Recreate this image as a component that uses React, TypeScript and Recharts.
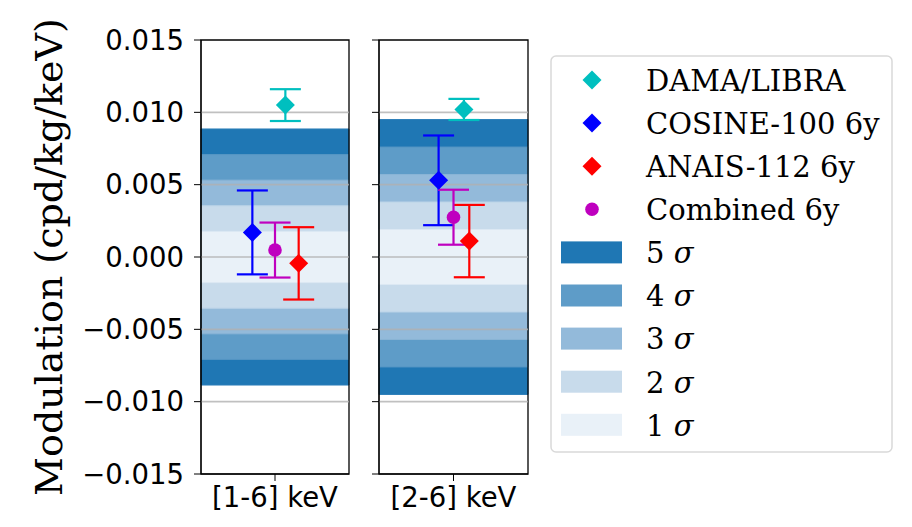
import React from "react";
import {
  ComposedChart,
  Scatter,
  ErrorBar,
  XAxis,
  YAxis,
  ReferenceArea,
  ReferenceLine,
} from "recharts";

// energy windows, one panel each
const categories = ["[1-6] keV", "[2-6] keV"];
const yTicks = [-0.015, -0.01, -0.005, 0, 0.005, 0.01, 0.015];
const gridTicks = [-0.01, -0.005, 0, 0.005, 0.01];

// sensitivity band width (1 sigma) per panel
const sigmaWidth = [0.00177, 0.0019];
const sigmaLevels = [5, 4, 3, 2, 1];
const sigmaColors = ["#1f77b4", "#5e9cc8", "#93bada", "#c8dbeb", "#e9f1f8"];
const sigmaEdges = ["#2a7db8", "#5596c4", "#8ab4d6", "#bcd4e8", "#dce8f3"];

// measured modulation amplitudes
const damaValues = [0.0105, 0.0102];
const damaErrors = [0.0011, 0.00073];
const damaX = [1.07, 1.07];

const cosineValues = [0.0017, 0.0053];
const cosineErrors = [0.0029, 0.0031];
const cosineX = [0.847, 0.9];

const anaisValues = [-0.00044, 0.0011];
const anaisErrors = [0.0025, 0.0025];
const anaisX = [1.16, 1.106];

const combinedValues = [0.00048, 0.00275];
const combinedErrors = [0.0019, 0.0019];
const combinedX = [1.0, 1.0];

const diamond = (color: string, r = 9.5) => (p: any) => (
  <polygon
    points={`${p.cx},${p.cy - r} ${p.cx + r},${p.cy} ${p.cx},${p.cy + r} ${p.cx - r},${p.cy}`}
    fill={color}
  />
);
const dot = (color: string, r = 6.8) => (p: any) => <circle cx={p.cx} cy={p.cy} r={r} fill={color} />;

const series = [
  { name: "DAMA/LIBRA", color: "#00bfbf", kind: "diamond", values: damaValues, errors: damaErrors, xs: damaX },
  { name: "COSINE-100 6y", color: "#0000ff", kind: "diamond", values: cosineValues, errors: cosineErrors, xs: cosineX },
  { name: "ANAIS-112 6y", color: "#ff0000", kind: "diamond", values: anaisValues, errors: anaisErrors, xs: anaisX },
  { name: "Combined 6y", color: "#bf00bf", kind: "dot", values: combinedValues, errors: combinedErrors, xs: combinedX },
];

const tickFont = { fontFamily: "DejaVu Sans", fontSize: 27.5, fill: "#000" };
const serif = "DejaVu Serif";

const fmt = (v: number) => (v < 0 ? "\u2212" + Math.abs(v).toFixed(3) : v.toFixed(3));

function AxisTitle(props: any) {
  const vb = props.viewBox || { y: 40, height: 434 };
  const cy = vb.y + vb.height / 2;
  return (
    <text
      x={62}
      y={cy}
      transform={`rotate(-90, 62, ${cy})`}
      textAnchor="middle"
      fontFamily={serif}
      fontSize={38}
      fill="#000"
    >
      Modulation (cpd/kg/keV)
    </text>
  );
}

function Panel({ idx, width, yAxisWidth, right, labels }: any) {
  const s = sigmaWidth[idx];
  return (
    <ComposedChart width={width} height={527} margin={{ top: 40, right, bottom: 0, left: 0 }}>
      <XAxis
        type="number"
        dataKey="x"
        domain={[0.5, 1.5]}
        ticks={[1]}
        tickFormatter={() => categories[idx]}
        height={53}
        tick={tickFont}
        tickSize={7}
        tickMargin={6}
        stroke="#000"
        allowDataOverflow
      />
      <YAxis
        type="number"
        dataKey="y"
        domain={[-0.015, 0.015]}
        ticks={yTicks}
        width={yAxisWidth}
        tick={tickFont}
        tickFormatter={labels ? fmt : () => ""}
        tickSize={7}
        tickMargin={10}
        stroke="#000"
        allowDataOverflow
        label={labels ? <AxisTitle /> : undefined}
      />
      {sigmaLevels.map((k, i) => (
        <ReferenceArea
          key={k}
          y1={-k * s}
          y2={k * s}
          fill={sigmaColors[i]}
          fillOpacity={1}
          stroke={sigmaEdges[i]}
          strokeWidth={1}
        />
      ))}
      {gridTicks.map((t) => (
        <ReferenceLine key={t} y={t} stroke="#b0b0b0" strokeOpacity={0.8} strokeWidth={1.6} />
      ))}
      <ReferenceArea x1={0.5} x2={1.5} y1={-0.015} y2={0.015} fill="none" stroke="#000" strokeWidth={1.3} />
      {series.map((sr) => (
        <Scatter
          key={sr.name}
          name={sr.name}
          data={[{ x: sr.xs[idx], y: sr.values[idx], err: sr.errors[idx] }]}
          shape={sr.kind === "dot" ? dot(sr.color) : diamond(sr.color)}
          isAnimationActive={false}
        >
          <ErrorBar dataKey="err" direction="y" width={15.5} stroke={sr.color} strokeWidth={2.2} />
        </Scatter>
      ))}
    </ComposedChart>
  );
}

function LegendBox() {
  const rowY = (i: number) => 80 + i * 43.1;
  return (
    <svg width={912} height={527} style={{ position: "absolute", left: 0, top: 0, pointerEvents: "none" }}>
      <rect x={551} y={56} width={341} height={396} rx={5} fill="#fff" stroke="#d9d9d9" strokeWidth={1.5} />
      {series.map((sr, i) => {
        const cy = rowY(i);
        return (
          <g key={sr.name}>
            {sr.kind === "dot" ? dot(sr.color)({ cx: 592, cy }) : diamond(sr.color)({ cx: 592, cy })}
            <text x={646} y={cy + 10.8} fontFamily={serif} fontSize={29} fill="#000">
              {sr.name}
            </text>
          </g>
        );
      })}
      {sigmaLevels.map((k, i) => {
        const cy = rowY(i + 4);
        return (
          <g key={k}>
            <rect x={561} y={cy - 11} width={61} height={22} fill={sigmaColors[i]} />
            <text x={646} y={cy + 10.8} fontFamily={serif} fontSize={29} fill="#000">
              {k}{" "}
              <tspan fontStyle="italic">σ</tspan>
            </text>
          </g>
        );
      })}
    </svg>
  );
}

export default function App() {
  return (
    <div style={{ position: "absolute", left: 0, top: 0, width: 912, height: 527, background: "#fff" }}>
      <div style={{ position: "absolute", left: 0, top: 0 }}>
        <Panel idx={0} width={360} yAxisWidth={201} right={11} labels />
      </div>
      <div style={{ position: "absolute", left: 360, top: 0 }}>
        <Panel idx={1} width={180} yAxisWidth={19} right={12} labels={false} />
      </div>
      <LegendBox />
    </div>
  );
}
